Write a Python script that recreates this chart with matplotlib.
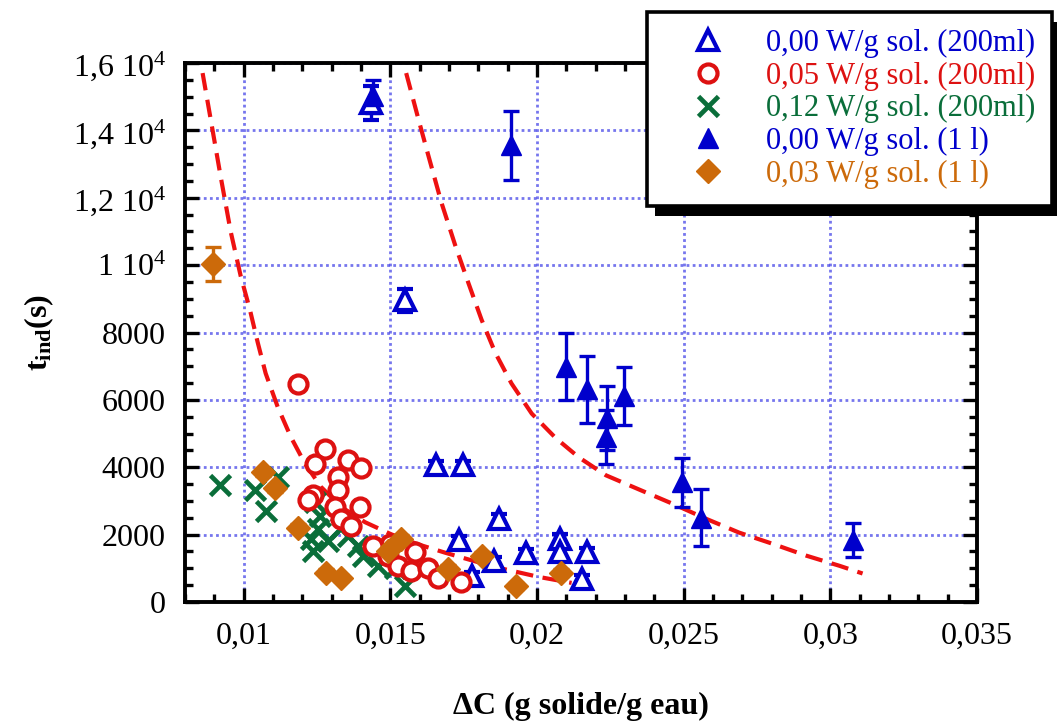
import matplotlib
matplotlib.use("Agg")
import matplotlib.pyplot as plt
from matplotlib.lines import Line2D
from matplotlib.patches import Rectangle

plt.rcParams["font.family"] = ["Liberation Serif", "DejaVu Serif"]
plt.rcParams["mathtext.fontset"] = "custom"
plt.rcParams["mathtext.rm"] = "Liberation Serif"
plt.rcParams["mathtext.it"] = "Liberation Serif:italic"
plt.rcParams["mathtext.bf"] = "Liberation Serif:bold"
plt.rcParams["mathtext.default"] = "regular"

# --- data ---
# 0,00 W/g sol. (200ml) : open triangles
a_x = [0.01434, 0.01551, 0.01657, 0.01749, 0.01735, 0.01780, 0.01872,
       0.01855, 0.01964, 0.02077, 0.02077, 0.02170, 0.02153]
a_y = [14806, 8955, 4060, 4060, 1851, 776, 2478, 1224, 1463, 1881, 1493, 1493, 687]
a_err = [500, 340, 120, 120, 120, 120, 120, 120, 120, 150, 120, 120, 120]

# 0,05 W/g sol. (200ml) : open circles
b_x = [0.01185, 0.01277, 0.01243, 0.01356, 0.01400, 0.01321, 0.01236, 0.01321,
       0.01397, 0.01311, 0.01332, 0.01366, 0.01219, 0.01499, 0.01492, 0.01585,
       0.01527, 0.01571, 0.01629, 0.01663, 0.01742, 0.01441]
b_y = [6477, 4537, 4089, 4209, 3970, 3701, 3164, 3313, 2806, 2806, 2478, 2269,
       3015, 1731, 1373, 1493, 1075, 925, 1015, 716, 597, 1672]
b_err = [150] + [120] * 21

# 0,12 W/g sol. (200ml) : crosses
c_x = [0.00918, 0.01038, 0.01116, 0.01075, 0.01243, 0.01260, 0.01253, 0.01236,
       0.01287, 0.01332, 0.01356, 0.01390, 0.01407, 0.01458, 0.01516, 0.01551, 0.01229]
c_y = [3463, 3313, 3701, 2716, 2955, 2567, 2179, 1522, 1821, 2209, 1970, 1672,
       1373, 1075, 1015, 478, 1881]

# 0,00 W/g sol. (1 l) : filled triangles
d_x = [0.01441, 0.01913, 0.02098, 0.02170, 0.02238, 0.02235, 0.02296, 0.02495, 0.02560, 0.03076]
d_y = [15015, 13552, 6985, 6313, 5463, 4895, 6119, 3552, 2507, 1851]
d_err = [490, 1015, 1000, 1000, 955, 806, 866, 731, 836, 507]

# 0,03 W/g sol. (1 l) : diamonds
e_x = [0.00894, 0.01065, 0.01106, 0.01185, 0.01280, 0.01332, 0.01492, 0.01537,
       0.01698, 0.01811, 0.01927, 0.02081]
e_y = [10030, 3851, 3373, 2209, 866, 716, 1522, 1881, 985, 1373, 478, 866]
e_err = [507] + [100] * 11

# dashed model curves
fit1_x = [0.00860, 0.00887, 0.00921, 0.00956, 0.00990, 0.01021, 0.01048, 0.01075,
          0.01116, 0.01161, 0.01209, 0.01263, 0.01332, 0.01414, 0.01503, 0.01595,
          0.01687, 0.01790, 0.01869, 0.02005, 0.02118]
fit1_y = [15701, 14358, 12656, 10985, 9671, 8686, 7701, 6786,
          5791, 4895, 4109, 3422, 2825, 2368, 2010, 1711, 1463, 1204, 1015, 746, 567]
fit2_x = [0.01554, 0.01595, 0.01629, 0.01674, 0.01722, 0.01766, 0.01811, 0.01858,
          0.01913, 0.01982, 0.02064, 0.02142, 0.02235, 0.02347, 0.02460, 0.02577,
          0.02689, 0.02802, 0.02919, 0.03031, 0.03110]
fit2_y = [15701, 14358, 13273, 11861, 10567, 9473, 8379, 7394, 6488, 5593, 4866,
          4298, 3761, 3343, 2925, 2468, 2060, 1731, 1373, 1075, 846]

x_ticks = [0.01, 0.015, 0.02, 0.025, 0.03, 0.035]
x_labels = ["0,01", "0,015", "0,02", "0,025", "0,03", "0,035"]
y_ticks = [0, 2000, 4000, 6000, 8000, 10000, 12000, 14000, 16000]
y_labels = ["0", "2000", "4000", "6000", "8000", r"1 10$^4$", r"1,2 10$^4$",
            r"1,4 10$^4$", r"1,6 10$^4$"]

labels = ["0,00 W/g sol. (200ml)", "0,05 W/g sol. (200ml)", "0,12 W/g sol. (200ml)",
          "0,00 W/g sol. (1 l)", "0,03 W/g sol. (1 l)"]

blue = "#0000cc"
red = "#dd1111"
green = "#0a6e3a"
orange = "#cc6a0a"

fig = plt.figure(figsize=(10.57, 7.25), dpi=100)
ax = fig.add_axes([185 / 1057, 1 - 602 / 725, 792 / 1057, 539 / 725])

ax.plot(fit1_x, fit1_y, color="#ee1111", lw=3, dashes=[4.2, 2.3], zorder=2)
ax.plot(fit2_x, fit2_y, color="#ee1111", lw=3, dashes=[4.2, 2.3], zorder=2)

eb = dict(capsize=6, elinewidth=2.4, capthick=2.4, ls="none", zorder=3)
ax.errorbar(a_x, a_y, yerr=a_err, fmt="^", ms=14, mfc="white", mec=blue, mew=3,
            color=blue, **eb)
ax.errorbar(b_x, b_y, yerr=b_err, fmt="o", ms=13, mfc="white", mec=red, mew=3,
            color=red, **eb)
ax.plot(c_x, c_y, "x", ms=14, mew=3.4, color=green, ls="none", zorder=3)
ax.errorbar(d_x, d_y, yerr=d_err, fmt="^", ms=14, color=blue, **eb)
ax.errorbar(e_x, e_y, yerr=e_err, fmt="D", ms=12, color=orange, **eb)

ax.set_xlim(0.008, 0.035)
ax.set_ylim(0, 16000)
ax.set_xticks(x_ticks)
ax.set_xticklabels(x_labels)
ax.set_yticks(y_ticks)
ax.set_yticklabels(y_labels)
ax.set_xticks([0.008 + 0.001 * i for i in range(28)], minor=True)
ax.set_yticks(list(range(0, 16001, 500)), minor=True)
ax.tick_params(which="both", direction="in", top=True, right=True, width=2.4,
               labelsize=23)
ax.tick_params(which="major", length=10)
ax.tick_params(which="minor", length=6)
ax.tick_params(axis="x", pad=14)
ax.tick_params(axis="y", pad=14)
for s in ax.spines.values():
    s.set_linewidth(2.8)

ax.grid(True, which="major", color="#4848e8", linestyle=(0, (1, 1.2)), lw=2, alpha=0.75)
ax.set_axisbelow(True)

ax.set_xlabel("ΔC (g solide/g eau)", fontsize=23, fontweight="bold", labelpad=30)
ax.set_ylabel(r"$\mathbf{t_{ind}(s)}$", fontsize=23, labelpad=12)

handles = [
    Line2D([], [], marker="^", ms=14, mfc="white", mec=blue, mew=3, ls="none"),
    Line2D([], [], marker="o", ms=13, mfc="white", mec=red, mew=3, ls="none"),
    Line2D([], [], marker="x", ms=14, mew=3.4, color=green, ls="none"),
    Line2D([], [], marker="^", ms=14, color=blue, ls="none"),
    Line2D([], [], marker="D", ms=12, color=orange, ls="none"),
]
leg = fig.legend(handles, labels, loc="upper right",
                 bbox_to_anchor=(1052 / 1057, 1 - 12 / 725), fontsize=22,
                 frameon=True, fancybox=False, framealpha=1, edgecolor="black",
                 borderpad=0.55, handlelength=2.9, handletextpad=0.45,
                 labelspacing=0.12, borderaxespad=0)
leg.get_frame().set_linewidth(2.6)
leg.set_zorder(10)
for t, c in zip(leg.get_texts(), [blue, red, green, blue, orange]):
    t.set_color(c)

# black drop shadow behind the legend box
fig.canvas.draw()
bb = leg.get_frame().get_window_extent()
shadow = Rectangle((bb.x0 + 8, bb.y0 - 10), bb.width, bb.height, facecolor="black",
                   edgecolor="none", transform=None, zorder=9)
fig.patches.append(shadow)

fig.savefig("out.png", dpi=100)
